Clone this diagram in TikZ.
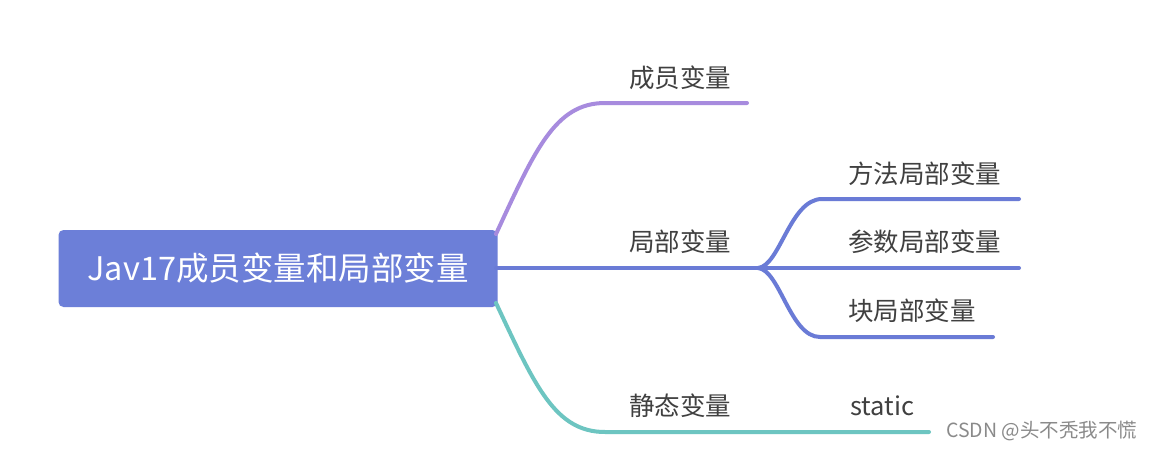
\documentclass[tikz,border=0pt]{standalone}
\usepackage{fontspec}
\setmainfont{Noto Sans CJK SC}
\definecolor{rootfill}{HTML}{6C7FD8}
\definecolor{lpurple}{HTML}{A78BDE}
\definecolor{lblue}{HTML}{6A7BD6}
\definecolor{lteal}{HTML}{6DC5C1}
\definecolor{labtext}{HTML}{404040}
\definecolor{marktext}{HTML}{8A8A8A}
\begin{document}
\begin{tikzpicture}[x=1pt,y=-1pt,
  rootbox/.style={fill=rootfill,text=white,rounded corners=5pt,minimum width=439pt,minimum height=77pt,inner sep=0pt,font=\fontsize{32.5}{36}\selectfont},
  lab/.style={text=labtext,inner sep=0pt,font=\fontsize{25.5}{28}\selectfont},
  branch/.style={line width=4pt,line cap=round}]
\useasboundingbox (0,0) rectangle (1154,450);
\fill[white] (0,0) rectangle (1154,450);
\node[rootbox] (root) at (278,268.5) {Jav17成员变量和局部变量};
% coordinates
\coordinate (pS) at (496,234);
\coordinate (pK) at (605,103);
\coordinate (pE) at (747,103);
\coordinate (bS) at (496,268);
\coordinate (bJ) at (758,268);
\coordinate (bE) at (1019,268);
\coordinate (uK) at (822,199);
\coordinate (uE) at (1019,199);
\coordinate (dK) at (820,337);
\coordinate (dE) at (993,337);
\coordinate (tS) at (496,303);
\coordinate (tK) at (605,432);
\coordinate (tE) at (929,432);
% branches
\draw[branch,lpurple] (pS) .. controls (535,150) and (555,103) .. (pK) -- (pE);
\draw[branch,lteal] (tS) .. controls (535,386) and (555,432) .. (tK) -- (tE);
\draw[branch,lblue] (bS) -- (bE);
\draw[branch,lblue] (bJ) .. controls (780,266) and (790,199) .. (uK) -- (uE);
\draw[branch,lblue] (bJ) .. controls (780,270) and (790,337) .. (dK) -- (dE);
% labels
\node[lab] (n1) at (680,78) {成员变量};
\node[lab] (n2) at (680,242) {局部变量};
\node[lab] (n3) at (680,406) {静态变量};
\node[lab,anchor=west] (m1) at (848,174) {方法局部变量};
\node[lab,anchor=west] (m2) at (848,242) {参数局部变量};
\node[lab,anchor=west] (m3) at (848,311) {块局部变量};
\node[lab,anchor=west] (s1) at (850,406) {static};
\node[text=marktext,inner sep=0pt,anchor=west,font=\fontsize{19.5}{22}\selectfont] (wm) at (946,431) {CSDN @头不秃我不慌};
\end{tikzpicture}
\end{document}
